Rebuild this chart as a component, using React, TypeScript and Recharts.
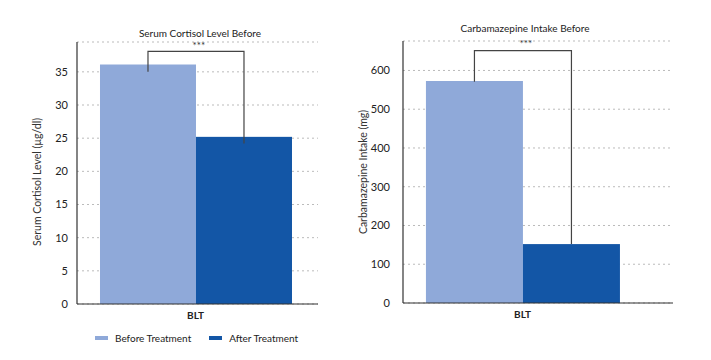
import React from "react";
import { BarChart, Bar, XAxis, YAxis, CartesianGrid, Label } from "recharts";

const categories = ["BLT"];
const seriesNames = ["Before Treatment", "After Treatment"];
const cortisolBefore = [36.1];
const cortisolAfter = [25.2];
const carbBefore = [573];
const carbAfter = [152];
const cortisolTicks = [0, 5, 10, 15, 20, 25, 30, 35];
const carbTicks = [0, 100, 200, 300, 400, 500, 600];
// bracket: [top, left leg end, right leg end, stars]
const cortisolBracket = [38.1, 35, 24.2, 39.6];
const carbBracket = [651, 571, 152, 680];

const LIGHT = "#8FA9D9";
const DARK = "#1356A6";
const FONT = "Lato, 'Noto Sans', sans-serif";

const buildData = (before: number[], after: number[]) =>
  categories.map((c, i) => ({ name: c, before: before[i], after: after[i] }));

// draws the after-bar plus the significance bracket, using the bar's own scale
const bracketShape = (bracket: number[]) => (props: any) => {
  const { x, y, width, height, value } = props;
  const v = Array.isArray(value) ? value[1] - value[0] : value;
  const base = y + height;
  const k = height / v;
  const py = (val: number) => base - val * k;
  const lx = x - width / 2;
  const rx = x + width / 2;
  const [top, leftEnd, rightEnd, stars] = bracket;
  return (
    <g>
      <rect x={x} y={y} width={width} height={height} fill={DARK} />
      <path
        d={`M${lx},${py(leftEnd)} L${lx},${py(top)} L${rx},${py(top)} L${rx},${py(rightEnd)}`}
        stroke="#444"
        strokeWidth={1.2}
        fill="none"
      />
      <text x={x + 3} y={py(stars) + 5} textAnchor="middle" dominantBaseline="middle" fontSize={10} fill="#333" fontFamily={FONT}>
        ***
      </text>
    </g>
  );
};

const tickStyle = { fontSize: 11, fill: "#222", fontFamily: FONT };

const Panel = ({ data, ticks, domain, yLabel, bracket, width, yWidth, right, gap, padRight, labelX, labelDy, tickGap }: any) => (
  <BarChart
    width={width}
    height={330}
    data={data}
    margin={{ top: 40, right, left: 0, bottom: 8 }}
    barCategoryGap={gap}
    barGap={0}
  >
    <CartesianGrid vertical={false} stroke="#bbb" strokeDasharray="2 3" />
    <XAxis
      dataKey="name"
      tickLine={false}
      axisLine={{ stroke: "#333", strokeWidth: 1.2 }}
      tick={{ ...tickStyle, fontWeight: 700, fontSize: 10 }}
      height={20}
      padding={{ left: 0, right: padRight }}
    />
    <YAxis
      width={yWidth}
      domain={domain}
      ticks={ticks}
      tickLine={false}
      axisLine={{ stroke: "#333", strokeWidth: 1.2 }}
      tick={tickStyle}
      tickMargin={tickGap}
    >
      <Label
        value={yLabel}
        angle={-90}
        position="insideLeft"
        offset={labelX}
        dy={labelDy}
        style={{ textAnchor: "middle", fontSize: 10.5, fill: "#333", fontFamily: FONT }}
      />
    </YAxis>
    <Bar dataKey="before" name={seriesNames[0]} fill={LIGHT} isAnimationActive={false} />
    <Bar dataKey="after" name={seriesNames[1]} fill={DARK} isAnimationActive={false} shape={bracketShape(bracket)} />
  </BarChart>
);

const Title = ({ text, left, top }: any) => (
  <div
    style={{
      position: "absolute",
      left,
      top,
      transform: "translateX(-50%)",
      fontSize: 10,
      lineHeight: "12px",
      color: "#222",
      fontFamily: FONT,
      whiteSpace: "nowrap",
    }}
  >
    {text}
  </div>
);

export default function App() {
  return (
    <div style={{ position: "absolute", left: 0, top: 0, width: 711, height: 360, background: "#fff" }}>
      <div style={{ position: "absolute", left: 0, top: 2 }}>
        <Panel
          data={buildData(cortisolBefore, cortisolAfter)}
          ticks={cortisolTicks}
          domain={[0, 39.5]}
          yLabel="Serum Cortisol Level (µg/dl)"
          bracket={cortisolBracket}
          width={330}
          yWidth={77}
          right={12}
          gap="9.7%"
          padRight={4}
          labelX={37}
          labelDy={9}
          tickGap={3}
        />
      </div>
      <div style={{ position: "absolute", left: 340, top: 1 }}>
        <Panel
          data={buildData(carbBefore, carbAfter)}
          ticks={carbTicks}
          domain={[0, 676]}
          yLabel="Carbamazepine Intake (mg)"
          bracket={carbBracket}
          width={360}
          yWidth={63}
          right={27}
          gap="9.6%"
          padRight={31}
          labelX={23}
          labelDy={0}
          tickGap={7}
        />
      </div>
      <Title text="Serum Cortisol Level Before" left={200} top={27} />
      <Title text="Carbamazepine Intake Before" left={525} top={22} />
      <div
        style={{
          position: "absolute",
          left: 95,
          top: 332,
          display: "flex",
          alignItems: "center",
          fontSize: 10,
          color: "#222",
          fontFamily: FONT,
        }}
      >
        {seriesNames.map((n, i) => (
          <div key={n} style={{ display: "flex", alignItems: "center", marginRight: 18 }}>
            <span style={{ width: 13, height: 4, background: i === 0 ? LIGHT : DARK, marginRight: 7 }} />
            {n}
          </div>
        ))}
      </div>
    </div>
  );
}
